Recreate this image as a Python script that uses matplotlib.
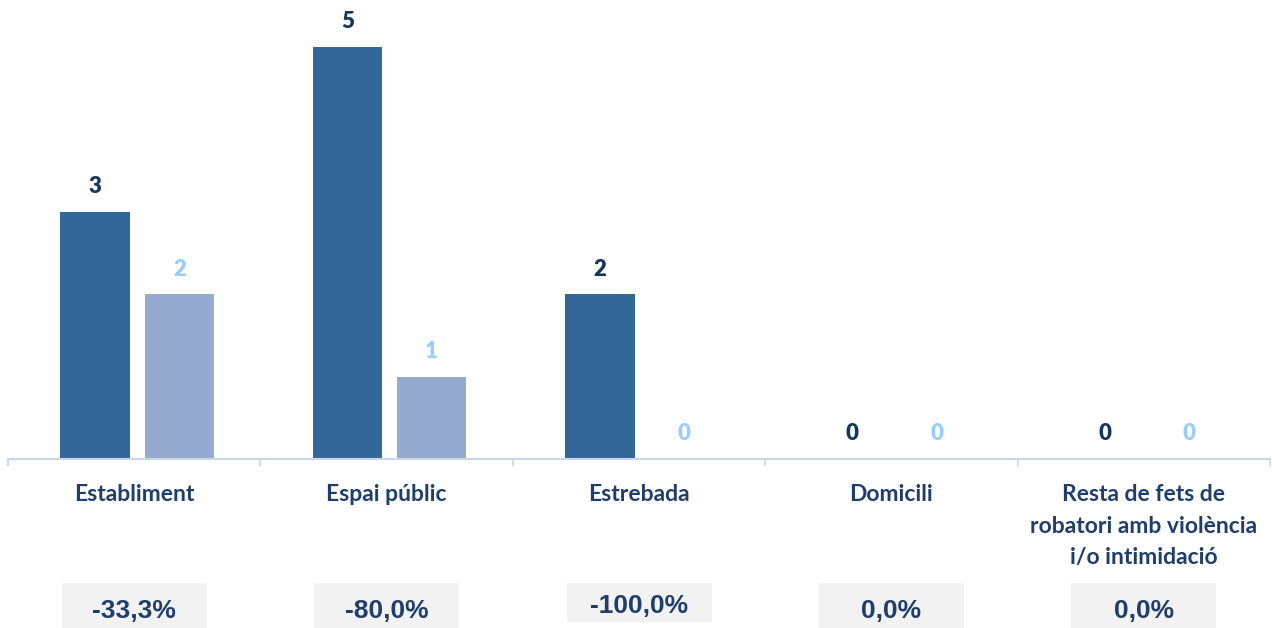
import numpy as np
import matplotlib.pyplot as plt
from matplotlib.patches import Rectangle
import matplotlib.transforms as mtransforms

categories = ['Establiment', 'Espai públic', 'Estrebada', 'Domicili',
              'Resta de fets de\nrobatori amb violència\ni/o intimidació']
prev_year = [3, 5, 2, 0, 0]
curr_year = [2, 1, 0, 0, 0]
pct_change = ['-33,3%', '-80,0%', '-100,0%', '0,0%', '0,0%']

dark = '#346799'
light = '#95A9D1'
navy = '#1F3E6B'
lblue = '#99CCFF'

fig = plt.figure(figsize=(12.72, 6.28), dpi=100)
ax = fig.add_axes([8 / 1272, 1 - 459 / 628, 1262 / 1272, 459 / 628])

x = np.arange(len(categories))
w = 0.275
off = 0.167
b1 = ax.bar(x - off + 0.012, prev_year, w, color=dark)
b2 = ax.bar(x + off + 0.012, curr_year, w, color=light)

for bars, vals, col in [(b1, prev_year, '#17365D'), (b2, curr_year, lblue)]:
    for r, v in zip(bars, vals):
        ax.annotate(str(v), (r.get_x() + r.get_width() / 2, v), xytext=(0, 18),
                    textcoords='offset points', ha='center', va='center',
                    fontsize=16, fontweight='heavy', color=col, family='Lato')

ax.set_xlim(-0.5, len(categories) - 0.5)
ax.set_ylim(0, 459 / 82.5)
for s in ['top', 'right', 'left']:
    ax.spines[s].set_visible(False)
ax.spines['bottom'].set_color('#C9D6EA')
ax.spines['bottom'].set_linewidth(1.5)
ax.set_yticks([])
ax.set_xticks([])
ax.set_xticks(np.arange(-0.5, len(categories)), minor=True)
ax.tick_params(axis='x', which='minor', length=5, color='#C9D6EA', width=1.2)

trans = mtransforms.blended_transform_factory(ax.transData, fig.transFigure)
for i, lab in enumerate(categories):
    ax.text(i, 1 - 484 / 628, lab, transform=trans, ha='center', va='top',
            fontsize=16.5, fontweight='bold', color=navy, family='Lato',
            linespacing=1.62)

box_w = 145 / 252.4
for i, p in enumerate(pct_change):
    y0 = 0 if i != 2 else 1 - 622 / 628
    h = 45 / 628 if i != 2 else 39 / 628
    ax.add_patch(Rectangle((i - box_w / 2, y0), box_w, h, transform=trans,
                           facecolor='#F2F2F2', edgecolor='none',
                           clip_on=False, zorder=1))
    ty = 1 - 611 / 628 if i != 2 else 1 - 606 / 628
    ax.text(i, ty, p, transform=trans, ha='center', va='center',
            fontsize=19, fontweight='bold', color=navy, zorder=3,
            family=['Liberation Sans', 'DejaVu Sans'])

fig.savefig('out.png', dpi=100)
